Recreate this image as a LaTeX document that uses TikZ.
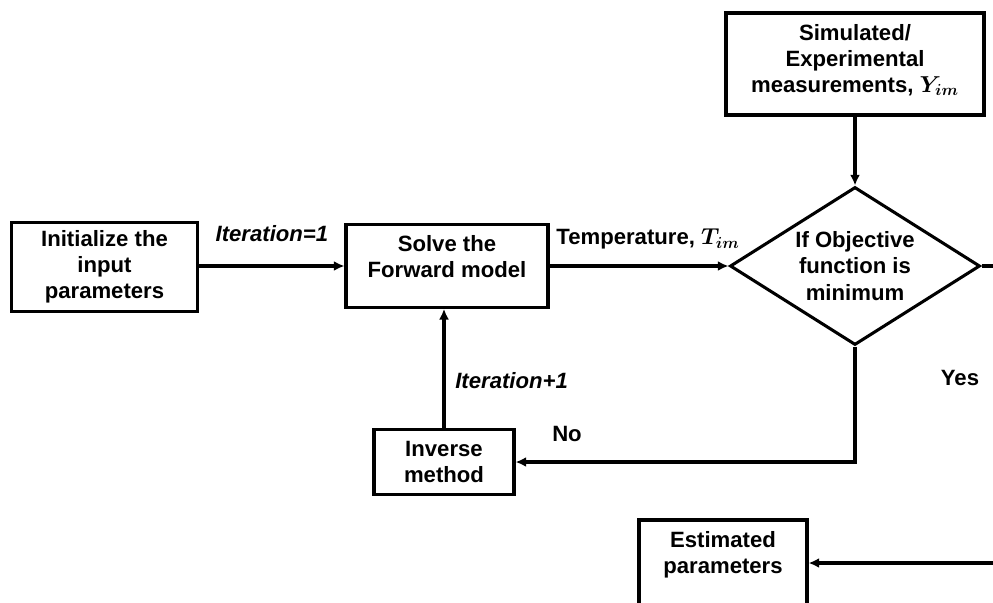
\documentclass[tikz,border=0pt]{standalone}
\usepackage{fontspec}
\setmainfont{Liberation Sans}
\usepackage{tikz}
\usetikzlibrary{arrows.meta, shapes.geometric}

\tikzset{
  chart/.style={x=0.75pt, y=-0.75pt, line width=2.3pt,
    >={Latex[length=8pt,width=7.5pt]},
    font=\fontsize{16.6}{19.6}\selectfont\bfseries\boldmath},
  procbox/.style={draw, rectangle, align=center, inner sep=0pt},
  decide/.style={draw, diamond, aspect=1.58, align=center, inner sep=0pt},
  toptext/.style={label={[anchor=north, align=center, yshift=-5pt]north:#1}},
  itlabel/.style={font=\fontsize{16.6}{19.6}\selectfont\bfseries\itshape},
}

\begin{document}
\begin{tikzpicture}[chart]
\useasboundingbox (0,0) rectangle (993,603);
\node[procbox, minimum width=140pt, minimum height=67pt] (init) at (104.5,267) {Initialize the\\input\\parameters};
\node[procbox, minimum width=151.5pt, minimum height=62pt, toptext={Solve the\\Forward model}] (solve) at (447,266) {};
\node[decide, minimum width=187.5pt, minimum height=118.5pt] (obj) at (855,266) {If Objective\\function is\\minimum};
\node[procbox, minimum width=193.5pt, minimum height=76.5pt, toptext={Simulated/\\Experimental\\measurements, $Y_{im}$}] (meas) at (855,64) {};
\node[procbox, minimum width=105pt, minimum height=48.75pt] (inv) at (444,462) {Inverse\\method};
\node[procbox, minimum width=126pt, minimum height=69pt, toptext={Estimated\\parameters}] (est) at (723,566) {};
\node (no) at (567,434) {No};
\node (yes) at (960,378) {Yes};
\coordinate (outa) at (1000,266);
\coordinate (outb) at (1000,563);
%
\draw[->] (init.east |- solve) -- (solve) node[pos=0.5, above=14pt, itlabel] {Iteration=1};
\draw[->] (solve) -- (obj) node[pos=0.55, above=8pt] {Temperature, $T_{im}$};
\draw[->] (meas) -- (obj);
\draw (obj) -- (outa);
\draw[->] (obj.south) |- (inv.east);
\draw[->] (inv.north) -- (inv.north |- solve.south) node[pos=0.4, right=4pt, itlabel] {Iteration+1};
\draw[->] (outb) -- (outb -| est.east);
\end{tikzpicture}
\end{document}
